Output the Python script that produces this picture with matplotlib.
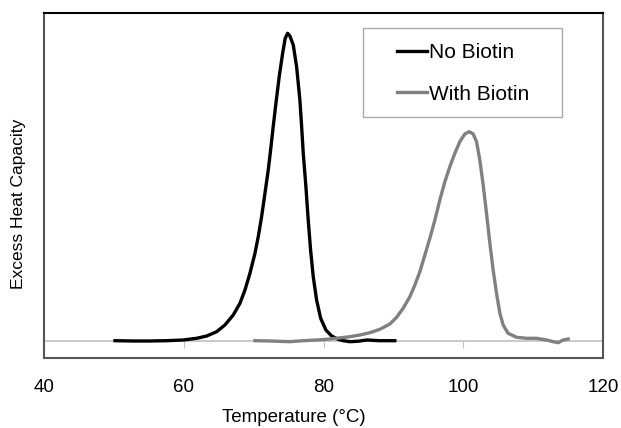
import matplotlib
matplotlib.use('Agg')
import matplotlib.pyplot as plt
from matplotlib.patches import Rectangle

plt.rcParams['font.family'] = ['Liberation Sans', 'DejaVu Sans']

# (arbitrary heat capacity units, baseline = 0)
no_biotin_t = [50.16, 52.78, 55.16, 57.55, 59.93, 61.85, 63.28, 64.71, 65.89, 67.08,
               68.04, 68.76, 69.47, 70.19, 70.66, 71.14, 71.62, 72.09, 72.43, 72.80,
               73.19, 73.66, 74.15, 74.52, 74.86, 75.19, 75.67, 76.15, 76.62, 76.87,
               77.10, 77.48, 77.81, 78.15, 78.53, 79.01, 79.59, 80.34, 81.16, 82.10,
               82.8, 83.8, 85.0, 86.2, 88.0, 90.2]
no_biotin_cp = [0.000, -0.003, -0.003, 0.000, 0.007, 0.024, 0.047, 0.090, 0.157, 0.257,
                0.374, 0.507, 0.674, 0.874, 1.040, 1.240, 1.474, 1.707, 1.907, 2.140,
                2.374, 2.640, 2.874, 3.024, 3.074, 3.047, 2.957, 2.740, 2.407, 2.140,
                1.874, 1.540, 1.207, 0.907, 0.640, 0.407, 0.224, 0.107, 0.047, 0.014,
                0.0, -0.01, -0.005, 0.007, 0.0, 0.0]

with_biotin_t = [70.19, 72.33, 75.19, 77.10, 79.01, 80.44, 81.87, 83.78, 85.21, 86.64,
                 88.07, 89.50, 90.46, 91.40, 92.36, 93.08, 93.79, 94.51, 95.22, 95.94,
                 96.65, 97.37, 98.08, 98.80, 99.51, 100.23, 100.85, 101.42, 101.90, 102.37,
                 102.85, 103.33, 103.81, 104.28, 104.76, 105.24, 105.71, 106.42, 107.62, 109.06,
                 110.49, 111.92, 112.86, 113.58, 114.29, 115.01]
with_biotin_cp = [0.000, -0.003, -0.010, 0.000, 0.007, 0.014, 0.024, 0.040, 0.057, 0.080,
                  0.114, 0.167, 0.234, 0.324, 0.440, 0.557, 0.690, 0.857, 1.024, 1.207,
                  1.407, 1.590, 1.740, 1.874, 1.990, 2.067, 2.090, 2.067, 1.990, 1.807,
                  1.557, 1.274, 0.974, 0.707, 0.474, 0.274, 0.157, 0.074, 0.034, 0.024,
                  0.024, 0.007, -0.010, -0.020, 0.007, 0.017]

xticks = [40, 60, 80, 100, 120]

fig = plt.figure(figsize=(6.21, 4.28), dpi=100)
ax = fig.add_axes([0.0709, 0.1624, 0.9001, 0.8061])

ax.plot(no_biotin_t, no_biotin_cp, color='black', lw=2.4, label='No Biotin')
ax.plot(with_biotin_t, with_biotin_cp, color='#808080', lw=2.4, label='With Biotin')

ax.set_xlim(40, 120)
ax.set_ylim(-0.178, 3.272)
ax.set_yticks([])
ax.set_xticks(xticks)
ax.tick_params(axis='x', length=0, pad=14.5, labelsize=13.5)
ax.set_xlabel('Temperature (°C)', fontsize=13.5)
ax.xaxis.set_label_coords(0.447, -0.146)
ax.set_ylabel('Excess Heat Capacity', fontsize=12.5)
ax.yaxis.set_label_coords(-0.032, 0.448)

# plot area border
for side in ['left', 'right', 'bottom']:
    ax.spines[side].set_color('#555555')
    ax.spines[side].set_linewidth(1.5)
ax.spines['top'].set_color('black')
ax.spines['top'].set_linewidth(1.5)

# zero line with its tick marks
zero = ax.secondary_xaxis(0, transform=ax.transData)
zero.spines['bottom'].set_color('#c0c0c0')
zero.spines['bottom'].set_linewidth(1.2)
zero.set_xticks(xticks)
zero.tick_params(axis='x', direction='out', length=5, color='#c0c0c0', labelbottom=False)

# legend with its own box
leg = ax.legend(loc='center left', bbox_to_anchor=(0.6393, 0.8283), bbox_transform=fig.transFigure,
                frameon=False, fontsize=15, handlelength=1.45, handletextpad=0.1,
                labelspacing=1.06, borderpad=0, borderaxespad=0)
ax.add_patch(Rectangle((363 / 621, 1 - 117 / 428), 199 / 621, 89 / 428,
                       transform=fig.transFigure, fill=False, edgecolor='#aaaaaa', lw=1.0))

fig.savefig('out.png', dpi=100)
